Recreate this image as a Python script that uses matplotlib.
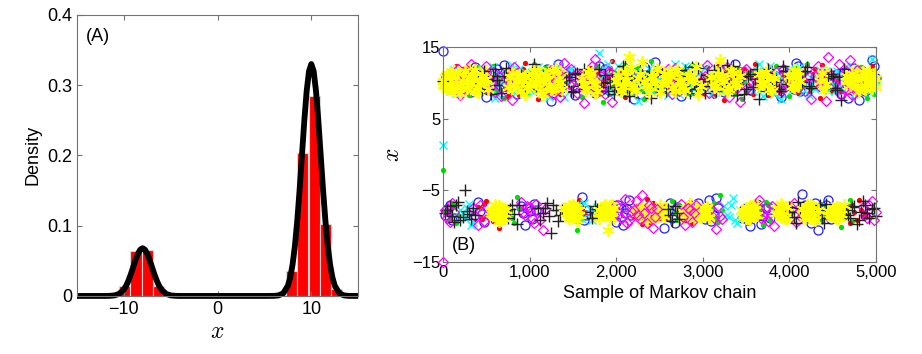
import numpy as np
import matplotlib
matplotlib.use("Agg")
import matplotlib.pyplot as plt

plt.rcParams['font.family'] = ['Liberation Sans', 'DejaVu Sans']
plt.rcParams['mathtext.fontset'] = 'cm'

# ---- panel A: histogram of samples and target density ----
hist_centers = [-9.9, -8.7, -7.5, -6.3, 7.9, 9.1, 10.3, 11.5, 12.7]
hist_heights = [0.014, 0.064, 0.065, 0.014, 0.035, 0.203, 0.285, 0.103, 0.010]

dens_x = [-15, -14, -13, -12, -11.5, -11, -10.5, -10, -9.75, -9.5, -9.25, -9, -8.75,
          -8.5, -8.25, -8, -7.75, -7.5, -7.25, -7, -6.75, -6.5, -6.25, -6, -5.5, -5,
          -4.5, -4, -2, 0, 2, 4, 5, 6, 6.5, 7, 7.5, 7.75, 8, 8.25, 8.5, 8.75, 9, 9.25,
          9.5, 9.75, 10, 10.25, 10.5, 10.75, 11, 11.25, 11.5, 11.75, 12, 12.25, 12.5,
          13, 13.5, 14, 15]
dens_y = [0, 0, 0, 0, 0.00015, 0.00076, 0.0030, 0.0092, 0.0147, 0.0221, 0.0311, 0.0412,
          0.0513, 0.0600, 0.0659, 0.068, 0.0659, 0.0600, 0.0513, 0.0412, 0.0311, 0.0221,
          0.0147, 0.0092, 0.0030, 0.00076, 0.00015, 0, 0, 0, 0, 0, 0, 0.0001, 0.00072,
          0.0037, 0.0145, 0.0263, 0.0447, 0.0714, 0.1072, 0.1511, 0.2001, 0.2491, 0.2912,
          0.3198, 0.33, 0.3198, 0.2912, 0.2491, 0.2001, 0.1511, 0.1072, 0.0714, 0.0447,
          0.0263, 0.0145, 0.0037, 0.0007, 0.0001, 0]

# ---- panel B: Markov chain traces ----
# *_even: samples 0, 50, ..., 5000 ; *_odd: samples 25, 75, ..., 4975
sample_step = 50
chain_blue_even = [14.5, -7.6, -9.1, 10.5, 8.9, 11.7, 9.8, 11.0, -6.6, -8.3,
                   8.0, 10.3, 11.4, 9.3, 12.5, 9.5, 11.2, 8.4, -7.2, -9.8,
                   -7.9, -6.9, 10.8, 10.0, 12.0, 7.5, 10.6, 9.1, 10.9, 11.5,
                   9.7, -8.7, -5.9, -8.5, 10.2, 8.6, 12.3, 9.2, 10.7, -7.0,
                   -9.4, -7.4, -8.1, -6.3, 7.8, 11.1, 9.9, 9.0, 10.4, 12.9,
                   9.4, -10.3, -7.7, -8.9, -7.3, 8.2, 11.3, 9.6, 10.1, -6.8,
                   -8.4, -7.8, -9.3, -6.1, 11.8, 8.7, 10.6, 9.0, 11.6, -8.8,
                   -7.5, -10.0, -7.1, -8.2, -8.6, -7.3, 9.9, 11.0, 8.1, 10.3,
                   11.4, 9.2, 12.4, -5.5, -8.0, -9.6, -6.7, -8.4, -7.9, -6.4,
                   9.5, 11.2, 8.5, 10.8, 10.0, 12.1, 7.6, 10.6, 9.1, 13.2, 10.7]
chain_blue_odd = [-8.4, -7.0, -8.8, 11.1, 9.5, 10.2, 8.7, 12.2, -7.9, -9.4,
                  10.6, 9.0, 11.9, 10.3, 8.5, 11.0, 9.7, 10.8, -8.1, -7.4,
                  -9.0, -7.7, 9.3, 11.6, 8.8, 10.4, 12.6, 9.6, 11.3, 10.0,
                  8.3, -7.3, -9.2, -7.8, 11.4, 10.0, 9.0, 11.9, 8.9, -8.6,
                  -7.1, -9.9, -7.6, -8.4, 10.5, 8.4, 12.2, 10.8, 9.3, 11.0,
                  10.3, -8.2, -6.7, -9.5, -8.0, 10.9, 9.0, 12.0, 8.8, -7.7,
                  -9.0, -6.4, -8.5, -7.4, 10.1, 11.4, 9.4, 12.7, 10.2, -7.6,
                  -9.2, -8.1, -6.9, -9.7, -7.5, -8.8, 10.6, 8.6, 11.7, 9.8,
                  10.9, 12.8, 8.9, -7.1, -8.9, -7.6, -10.5, -8.3, -7.0, -9.0,
                  10.4, 9.2, 11.5, 7.9, 10.9, 9.7, 11.8, 8.8, 10.2, 12.3]
chain_green_even = [-2.2, -8.2, -6.7, -9.5, 9.6, 11.3, 8.3, 10.7, 12.2, 9.0,
                    10.4, 11.9, 8.8, 10.0, 7.9, -7.4, -8.8, -6.0, 11.6, 9.4,
                    10.9, 12.7, 9.8, 8.5, 11.0, 10.2, 9.1, 11.4, -7.9, -9.0,
                    -7.1, -10.5, 8.1, 10.6, 12.0, 9.3, 10.8, 7.4, 11.2, 9.7,
                    10.3, 8.7, 12.5, 10.1, 9.2, 11.7, 8.9, 10.5, 13.1, 9.5,
                    11.1, -8.4, -7.6, -6.5, -9.2, 9.9, 11.5, 8.4, 10.6, 12.1,
                    9.2, -8.0, -7.3, -8.9, -5.7, 10.3, 11.8, 8.9, 10.0, 7.7,
                    11.4, 9.5, -8.6, -7.7, -9.9, -7.0, 10.7, 12.3, 9.0, 10.4,
                    8.2, 11.0, 9.7, 10.9, 12.6, 9.3, -8.3, -6.9, -8.7, -7.5,
                    10.1, 8.6, -10.1, -8.1, -6.4, 11.3, 9.8, 10.5, 7.9, 11.9, 10.2]
chain_green_odd = [-7.9, -9.1, -7.3, -8.5, 10.9, 9.1, 11.8, 10.2, 8.7, 11.4,
                   9.6, 12.3, 10.5, 9.0, 11.1, -8.0, -9.5, -7.6, 10.0, 8.6,
                   11.2, 9.4, 10.7, 12.1, 8.9, 10.4, 11.6, 9.9, -8.4, -6.8,
                   -8.6, -7.5, 11.0, 9.5, 10.8, 12.4, 8.8, 10.2, 9.3, 11.5,
                   8.9, 10.6, 11.4, 9.6, 12.2, 10.0, 7.8, 11.1, 9.8, 10.7,
                   9.3, -7.8, -9.0, -8.2, -7.1, 11.3, 9.6, 12.5, 10.1, 8.8,
                   10.9, -8.6, -6.8, -9.4, -7.7, 9.7, 11.2, 8.4, 12.0, 10.3,
                   9.0, 11.6, -7.3, -8.5, -6.6, -9.1, 10.0, 8.9, 11.3, 9.5,
                   10.6, 12.1, 9.2, 11.5, 8.6, 10.8, -7.9, -9.2, -7.2, -8.3,
                   9.4, 11.0, -8.8, -7.0, -9.3, 10.4, 12.2, 9.1, 10.9, 8.5]
chain_red_even = [11.0, 9.3, 10.6, 12.4, 8.7, 10.1, 11.5, 9.0, -7.3, -9.0,
                  -6.5, -8.4, -7.7, -10.2, 10.8, 8.2, 11.9, 9.6, 10.4, 12.8,
                  9.1, 10.9, 7.7, 11.3, 10.0, 9.4, 11.8, 8.5, 10.5, -8.1,
                  -6.8, -9.3, -7.5, 10.2, 12.1, 8.8, 11.1, 9.7, 10.7, 13.0,
                  9.2, 11.4, 8.0, 10.3, -8.6, -7.1, -9.7, -6.2, -8.3, -7.8,
                  -8.9, -7.0, 11.6, 9.5, 10.0, -7.6, -9.2, -6.6, -8.5, 10.8,
                  8.4, 12.2, 9.9, 10.6, 11.2, 7.6, 10.1, 9.0, 11.7, 10.4,
                  8.9, 10.9, 12.6, 9.4, 11.0, 8.3, 10.5, 9.8, 11.5, 10.0,
                  9.3, 11.3, 8.6, 12.0, 10.2, 9.6, 11.9, 7.9, 10.7, 9.1,
                  11.1, 10.3, 8.8, -7.4, -9.5, -8.0, -6.3, -8.7, 10.6, 12.3, 9.4]
chain_red_odd = [9.7, 11.2, 8.9, 10.5, 12.0, 9.4, 10.8, 11.6, -8.7, -6.9,
                 -8.0, -9.3, -7.0, -8.6, 9.2, 11.0, 10.3, 8.3, 11.9, 9.8,
                 10.6, 12.3, 9.0, 10.2, 11.5, 8.7, 10.9, 9.5, 11.2, -7.5,
                 -8.8, -6.4, -8.1, 9.6, 10.8, 11.7, 8.6, 10.3, 12.1, 9.2,
                 10.9, 8.8, 11.3, 9.9, -7.4, -8.9, -7.9, -9.4, -6.8, -8.2,
                 -7.3, -8.8, 10.5, 8.6, 11.8, -8.3, -7.2, -9.6, -7.7, 9.3,
                 11.0, 10.1, 8.2, 12.4, 9.5, 10.7, 11.4, 9.1, 10.0, 12.0,
                 9.6, 8.5, 11.1, 10.4, 9.0, 12.2, 10.8, 8.8, 11.3, 9.9,
                 10.5, 9.0, 11.6, 10.1, 8.4, 11.2, 9.7, 12.5, 10.3, 8.9,
                 10.8, 9.2, 11.5, -8.5, -7.0, -9.1, -7.8, -8.4, 11.1, 9.8]
chain_cyan_even = [1.3, 9.8, 11.4, 8.6, -7.7, -8.9, -6.9, -9.4, 10.5, 12.0,
                   9.2, 10.8, 7.9, 11.1, 10.1, 9.5, 12.5, 8.8, 10.6, 11.5,
                   9.0, 10.3, 12.2, 8.4, 10.9, 9.7, 11.2, 10.0, 8.1, 11.8,
                   -8.2, -7.1, -9.0, 10.4, -7.6, -8.5, 14.2, 11.0, 12.7, 9.9,
                   8.7, 10.7, 11.6, 9.1, 10.2, 7.5, 11.3, 9.6, 10.8, 12.1,
                   9.4, 10.0, 8.3, 11.7, 10.5, 9.0, 12.4, 10.9, 8.9, 11.2,
                   9.8, 10.6, 8.5, 11.9, 10.1, -7.2, -8.7, -6.1, -9.6, -7.9,
                   11.0, 9.3, 10.4, 12.6, 8.2, 10.9, 9.7, 11.4, 7.7, 10.3,
                   12.0, 9.5, 10.8, 8.6, 11.3, 10.0, 9.1, 11.8, 10.6, 8.9,
                   10.2, 11.6, 9.4, 12.3, 10.7, 8.4, 11.1, 9.9, 10.5, 13.4, 9.6]
chain_cyan_odd = [10.9, 8.8, 11.8, 9.9, -8.3, -7.4, -9.8, -8.0, 11.3, 9.4,
                  10.5, 12.2, 8.5, 10.0, 11.6, 9.1, 10.7, 12.0, 9.6, 8.9,
                  11.4, 10.1, 9.3, 11.0, 8.0, 10.8, 12.4, 9.5, 10.4, 11.9,
                  -7.5, -8.8, -6.7, 9.6, -9.1, -7.3, 10.6, 11.8, 9.0, 10.3,
                  12.3, 9.4, 10.2, 8.6, 11.5, 10.9, 9.2, 12.0, 8.8, 10.6,
                  11.1, 9.8, 10.5, 12.6, 8.4, 10.0, 11.3, 9.5, 10.8, 9.0,
                  12.1, 9.6, 11.0, 10.3, 8.7, -8.4, -7.0, -9.1, -7.7, -8.6,
                  10.7, 8.9, 11.6, 9.3, 10.1, 12.4, 8.5, 10.9, 9.8, 11.2,
                  9.0, 10.4, 12.2, 9.7, 8.3, 11.0, 10.6, 9.4, 11.7, 10.0,
                  8.8, 11.3, 10.1, 9.5, 12.0, 10.8, 9.2, 11.5, 8.7, 10.4]
chain_magenta_even = [-15.0, -8.9, -6.8, 10.7, 8.3, 11.6, 9.4, -7.5, -9.9, -8.1,
                      12.3, 10.1, 8.7, 11.0, 9.6, 10.8, 7.6, 11.4, -6.6, -8.5,
                      -7.3, -9.5, -7.9, -10.6, 9.2, 11.8, 10.3, 8.0, 12.8, 9.9,
                      10.9, 8.6, 11.2, 9.5, 10.5, 13.3, 8.9, 10.0, 11.7, 7.4,
                      -7.1, -8.8, -6.2, -9.2, -7.7, -8.4, -5.6, -9.6, -7.4, -8.7,
                      10.6, 9.1, 11.9, 8.4, 10.2, -6.9, -9.8, -7.8, -8.2, 11.3,
                      9.7, 12.5, -7.6, -10.4, -8.6, 10.4, 8.1, 11.1, 9.3, 10.8,
                      12.0, 9.0, 10.6, -6.4, -8.3, -9.3, -7.2, 11.5, 8.8, 10.1,
                      -8.0, -6.7, -9.1, 10.3, 11.9, 7.7, 10.9, 9.4, 11.2, 13.6,
                      9.8, 10.7, 8.5, 11.6, 13.2, 9.2, 10.4, -7.3, -8.9, -6.5, -8.0]
chain_magenta_odd = [-7.7, -9.4, -8.0, 11.9, 9.1, 10.4, 12.6, -8.6, -7.0, -9.3,
                     9.0, 11.5, 10.6, 8.2, 11.3, 9.8, 12.2, 10.0, -8.0, -7.2,
                     -8.9, -6.9, -9.2, -7.6, 10.8, 8.5, 11.4, 9.6, 10.3, 12.0,
                     9.3, 11.1, 7.2, 10.6, 12.4, 9.0, 10.9, 8.4, 11.5, 10.2,
                     -8.5, -7.3, -9.6, -7.9, -6.5, -9.0, -8.2, -7.0, -10.2, -7.6,
                     11.4, 9.6, 10.2, 12.1, 8.8, -8.7, -7.4, -9.4, -7.0, 10.0,
                     11.0, 8.6, -8.8, -7.2, -9.0, 12.2, 9.7, 10.5, 7.3, 11.6,
                     9.4, 11.3, 10.1, -8.9, -7.4, -8.1, -10.0, 9.2, 12.0, 10.6,
                     -7.5, -9.4, -7.9, 8.9, 11.0, 9.8, 12.3, 10.4, 7.5, 11.1,
                     10.0, 12.6, 9.1, 10.7, 8.3, 11.8, 9.5, -8.4, -7.1, -9.2]
chain_black_even = [10.2, -7.8, -8.6, -7.1, -9.2, -5.0, -8.3, -7.5, 11.3, 9.0,
                    10.5, 8.4, 12.0, 9.7, 10.9, -8.8, -7.0, -9.7, 11.1, 9.3,
                    10.0, 12.6, -7.4, -8.2, -6.8, -11.0, -7.7, -8.5, 9.6, 10.8,
                    8.7, 11.4, 10.3, 9.1, -8.0, -7.2, 11.9, 10.1, 8.9, 10.6,
                    9.4, 11.0, 12.3, 8.2, 10.4, 9.8, 11.6, 10.7, 7.9, 11.2,
                    9.2, 10.9, -7.6, -9.3, -8.1, 10.3, 11.8, 8.6, 10.0, 12.1,
                    9.5, 11.1, 10.5, 8.8, 11.5, 9.9, 10.2, 12.4, 8.3, 10.8,
                    9.1, 11.3, 10.6, 7.7, 10.0, 11.9, 9.6, 10.4, 8.9, 11.6,
                    -7.3, -8.7, -6.6, 10.1, 12.2, 9.3, -8.4, -7.0, -9.5, 10.7,
                    11.0, 9.0, 7.6, -7.7, -8.9, -7.2, -9.1, -6.5, -8.2, -7.6, -8.6]
chain_black_odd = [-8.1, -7.2, -9.4, -6.6, -8.7, -7.9, -9.0, -8.4, 10.0, 11.7,
                   9.2, 11.0, 10.4, 8.6, 12.1, -7.6, -8.3, -7.1, 9.9, 10.7,
                   11.5, 9.1, -9.1, -7.5, -8.6, -7.0, -9.3, -7.8, 10.4, 8.9,
                   11.2, 9.6, 12.0, 10.3, -8.8, -7.6, 9.4, 11.1, 10.0, 8.5,
                   10.8, 12.4, 9.3, 11.0, 8.7, 10.5, 9.8, 11.7, 10.2, 9.0,
                   11.3, 8.8, -8.5, -7.2, -9.0, 9.5, 10.9, 12.2, 9.2, 10.6,
                   8.6, 10.3, 11.8, 9.7, 10.0, 12.5, 9.0, 11.2, 10.4, 8.4,
                   11.0, 9.4, 12.0, 10.6, 8.9, 11.4, 10.1, 9.2, 12.3, 9.8,
                   -8.0, -9.6, -7.4, 11.6, 9.6, 10.5, -7.7, -8.8, -6.9, 11.3,
                   9.3, 10.8, 12.0, -8.4, -7.3, -9.7, -8.0, -7.0, -8.8, -7.5]
chain_yellow_even = [10.3, 9.1, 11.2, 10.0, 8.6, 11.7, 9.6, 10.8, 9.3, 11.0,
                     10.5, -7.9, -8.6, -7.2, -8.9, 9.4, 11.4, 10.2, 8.9, 10.9,
                     9.8, 11.6, 10.4, 8.4, 11.1, 9.2, 12.0, 10.1, -7.5, -8.8,
                     -7.0, -9.1, 10.6, 9.0, 11.3, 9.9, -7.7, -8.4, -10.6, -7.9,
                     10.2, 8.8, 11.5, 13.6, 9.5, 10.7, 12.9, 9.7, 11.0, 10.0,
                     8.7, 11.3, 10.4, 9.3, 11.8, 10.1, 9.0, 11.1, 10.6, 8.5,
                     -8.2, -7.3, 10.8, 9.6, 13.2, 10.3, 9.1, 11.4, 10.0, -8.7,
                     -7.4, -9.0, -7.8, 11.2, 9.8, 10.5, 8.9, -8.1, -6.9, -8.8,
                     10.9, 9.4, 11.7, -7.6, -8.5, -7.1, -9.2, 10.2, 9.0, -7.9,
                     -8.6, -7.3, -8.3, 11.0, 9.7, 10.6, 8.8, 11.5, 10.1, 9.3, 10.7]
chain_yellow_odd = [9.6, 10.9, 8.9, 11.5, 10.2, 9.3, 10.7, 11.8, 9.9, 10.4,
                    9.1, -8.3, -7.5, -9.0, -7.7, 10.8, 9.7, 11.1, 10.3, 9.4,
                    11.3, 10.0, 8.8, 10.9, 9.5, 11.6, 10.5, 9.2, -8.2, -7.3,
                    -8.5, -7.8, 9.8, 11.5, 10.3, 8.9, -8.0, -7.1, -8.9, -7.5,
                    11.1, 9.6, 10.4, 12.1, 9.0, 11.3, 10.1, 8.7, 10.8, 11.9,
                    9.9, 10.6, 11.7, 8.8, 10.3, 9.4, 11.0, 10.2, 12.2, 9.6,
                    -7.6, -8.7, 9.4, 11.2, 10.5, 8.9, 11.7, 9.8, 10.9, -8.0,
                    -8.8, -7.2, -8.4, 10.0, 11.5, 9.2, 10.7, -7.7, -8.6, -7.3,
                    9.5, 11.0, 10.3, -8.9, -7.4, -8.2, -7.8, 11.4, 9.8, -8.4,
                    -7.6, -8.9, -7.1, 10.2, 11.3, 9.5, 10.8, 9.1, 11.6, 10.0]
chain_yellow2_even = [9.7, 11.3, 10.4, 8.9, 10.9, 9.4, 11.9, 10.1, 8.7, 10.6,
                      11.5, -8.3, -7.1, -9.3, -7.6, 10.8, 9.2, 11.1, 10.0, 8.5,
                      10.6, 9.5, 11.8, 10.2, 9.0, 10.7, 8.8, 11.4, -8.0, -7.2,
                      -8.7, -7.7, 9.9, 11.2, 10.3, 8.6, -8.9, -7.3, -8.1, -7.0,
                      10.5, 9.3, 11.6, 10.0, -7.8, -8.8, -7.2, -9.1, -7.5, -8.4,
                      -7.0, -8.6, 10.9, 9.6, 11.0, -7.9, -8.5, -6.9, -9.0, -7.6,
                      -8.3, -7.4, 10.2, 11.5, 9.1, 10.7, 9.8, 11.2, 10.4, -7.8,
                      -8.9, -7.2, -8.4, 9.6, 11.0, 10.1, 9.3, -7.5, -8.7, -7.9,
                      10.6, 11.8, 9.5, -8.2, -7.0, -8.8, -7.7, 10.9, 9.9, -8.5,
                      -7.4, -8.9, -7.8, 10.3, 11.4, 9.2, 10.8, 9.7, 11.1, 10.5, 9.4]
chain_yellow2_odd = [10.8, 9.5, 11.6, 10.0, 9.2, 11.1, 10.5, 8.8, 11.4, 9.9,
                     10.2, -7.7, -8.9, -7.4, -8.5, 9.6, 11.3, 10.4, 9.1, 11.0,
                     9.8, 11.2, 10.6, 9.3, 11.7, 10.0, 9.5, 10.9, -7.6, -8.6,
                     -7.3, -8.4, 10.7, 9.4, 11.4, 10.1, -7.8, -8.5, -7.2, -8.8,
                     9.7, 11.0, 10.3, 9.2, -8.1, -7.4, -8.6, -7.7, -9.0, -7.9,
                     -8.3, -7.5, 10.4, 11.3, 9.5, -8.8, -7.3, -8.1, -7.5, -8.7,
                     -7.7, -8.9, 11.0, 9.8, 10.6, 11.6, 9.3, 10.1, 11.2, -8.3,
                     -7.5, -8.6, -7.0, 10.5, 9.4, 11.4, 10.2, -8.2, -7.4, -8.9,
                     11.1, 9.7, 10.4, -7.9, -8.7, -7.3, -8.3, 10.0, 11.5, -7.6,
                     -8.7, -7.6, -8.3, 9.6, 10.9, 11.8, 10.2, 9.3, 10.6, 11.2]

x_ticks_b = [0, 1000, 2000, 3000, 4000, 5000]
x_ticklabels_b = ['0', '1,000', '2,000', '3,000', '4,000', '5,000']
y_ticks_b = [-15, -5, 5, 15]
y_ticklabels_b = ['\u221215', '\u22125', '5', '15']

fig = plt.figure(figsize=(9.22, 3.54), dpi=100)
ax1 = fig.add_axes([0.0835, 0.164, 0.305, 0.794])
ax2 = fig.add_axes([0.4805, 0.26, 0.4696, 0.607])

for ax in (ax1, ax2):
    for s in ax.spines.values():
        s.set_color('0.45')
        s.set_linewidth(0.8)
    ax.tick_params(direction='in', top=True, right=True, color='0.45', length=3.5, width=0.8)

# panel A
ax1.bar(hist_centers, hist_heights, width=1.19, color='#ff0000', edgecolor='#d9d9d9', linewidth=0.8)
ax1.plot(dens_x, dens_y, color='black', lw=4.2, clip_on=False, solid_capstyle='butt', solid_joinstyle='round')
ax1.set_xlim(-15, 15)
ax1.set_ylim(0, 0.4)
ax1.set_xticks([-10, 0, 10])
ax1.set_yticks([0, 0.1, 0.2, 0.3, 0.4])
ax1.set_yticklabels(['0', '0.1', '0.2', '0.3', '0.4'])
ax1.tick_params(labelsize=13)
ax1.set_ylabel('Density', fontsize=13, labelpad=4)
ax1.set_xlabel('$x$', fontsize=17, labelpad=2)
ax1.text(0.03, 0.955, '(A)', transform=ax1.transAxes, fontsize=13, va='top', ha='left')

# panel B (drawing order decides what ends up on top)
star = (6, 2, 0)
styles = [
    (chain_blue_even, chain_blue_odd, dict(marker='o', color='#2020ff', ms=6.5, mfc='none', mew=0.9)),
    (chain_green_even, chain_green_odd, dict(marker='o', color='#00e000', ms=3.8, mew=0)),
    (chain_red_even, chain_red_odd, dict(marker='o', color='#ff0000', ms=3.8, mew=0)),
    (chain_cyan_even, chain_cyan_odd, dict(marker='x', color='#00ffff', ms=5.5, mew=1.0)),
    (chain_yellow2_even, chain_yellow2_odd, dict(marker=star, color='#ffff00', ms=9, mew=1.3)),
    (chain_magenta_even, chain_magenta_odd, dict(marker='D', color='#ff00ff', ms=5.5, mfc='none', mew=0.9)),
    (chain_black_even, chain_black_odd, dict(marker='+', color='#222222', ms=8, mew=1.0)),
    (chain_yellow_even, chain_yellow_odd, dict(marker=star, color='#ffff00', ms=9, mew=1.3)),
]
for ys_even, ys_odd, kw in styles:
    xs_even = np.arange(len(ys_even)) * sample_step
    xs_odd = np.arange(len(ys_odd)) * sample_step + sample_step // 2
    ax2.plot(np.concatenate([xs_even, xs_odd]), ys_even + ys_odd,
             linestyle='none', clip_on=False, **kw)

ax2.set_xlim(0, 5000)
ax2.set_ylim(-15, 15)
ax2.set_xticks(x_ticks_b)
ax2.set_xticklabels(x_ticklabels_b)
ax2.set_yticks(y_ticks_b)
ax2.set_yticklabels(y_ticklabels_b)
ax2.tick_params(labelsize=12, pad=2)
ax2.set_xlabel('Sample of Markov chain', fontsize=13, labelpad=4)
ax2.set_ylabel('$x$', fontsize=17, labelpad=6)
ax2.text(0.02, 0.075, '(B)', transform=ax2.transAxes, fontsize=13, va='center', ha='left')

fig.savefig('out.png', dpi=100)
